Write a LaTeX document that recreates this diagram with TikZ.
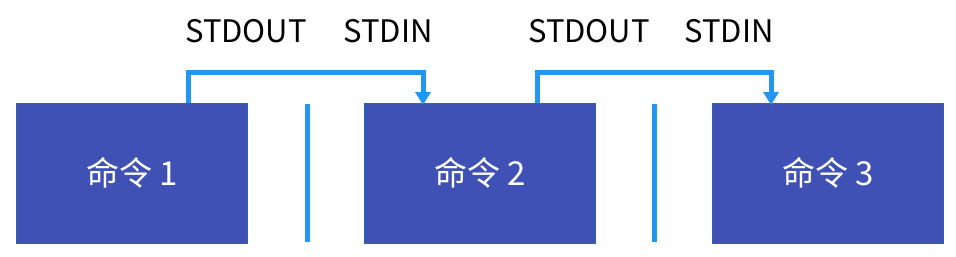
\documentclass[tikz,border=0pt]{standalone}
\usepackage{fontspec}
\setmainfont{Noto Sans CJK SC}
\usetikzlibrary{arrows.meta}
\definecolor{boxfill}{HTML}{3F51B5}
\definecolor{boxedge}{HTML}{2F63B0}
\definecolor{pipeblue}{HTML}{2196F3}
\tikzset{
  cmdbox/.style={draw=boxedge, line width=1pt, fill=boxfill, text=white,
    minimum width=231pt, minimum height=140pt, inner sep=0pt,
    font=\fontsize{33}{40}\selectfont},
  streamlabel/.style={anchor=base, inner sep=0pt, text=black,
    font=\fontsize{31}{37}\selectfont},
  pipe/.style={draw=pipeblue, line width=5pt},
  pipearrow/.style={pipe, -{Triangle[width=15pt,length=13pt]}},
  divider/.style={draw=pipeblue, line width=5pt}
}
\begin{document}
\begin{tikzpicture}[x=1pt,y=-1pt]
\useasboundingbox (0,0) rectangle (956,257);
\node[cmdbox] (c1) at (132,173) {命令 1};
\node[cmdbox] (c2) at (480,173) {命令 2};
\node[cmdbox] (c3) at (828,173) {命令 3};
\node[streamlabel] (out1) at (246,42) {STDOUT};
\node[streamlabel] (in1) at (388,42) {STDIN};
\node[streamlabel] (out2) at (589,42) {STDOUT};
\node[streamlabel] (in2) at (729,42) {STDIN};
\coordinate (o1) at (188,103);
\coordinate (i2) at (423,105);
\coordinate (o2) at (537,103);
\coordinate (i3) at (771,105);
\coordinate (d1a) at (307,104);
\coordinate (d1b) at (307,242);
\coordinate (d2a) at (654,104);
\coordinate (d2b) at (654,242);
\draw[pipearrow] (o1) -- (188,72) -| (i2);
\draw[pipearrow] (o2) -- (537,72) -| (i3);
\draw[divider] (d1a) -- (d1b);
\draw[divider] (d2a) -- (d2b);
\end{tikzpicture}
\end{document}
